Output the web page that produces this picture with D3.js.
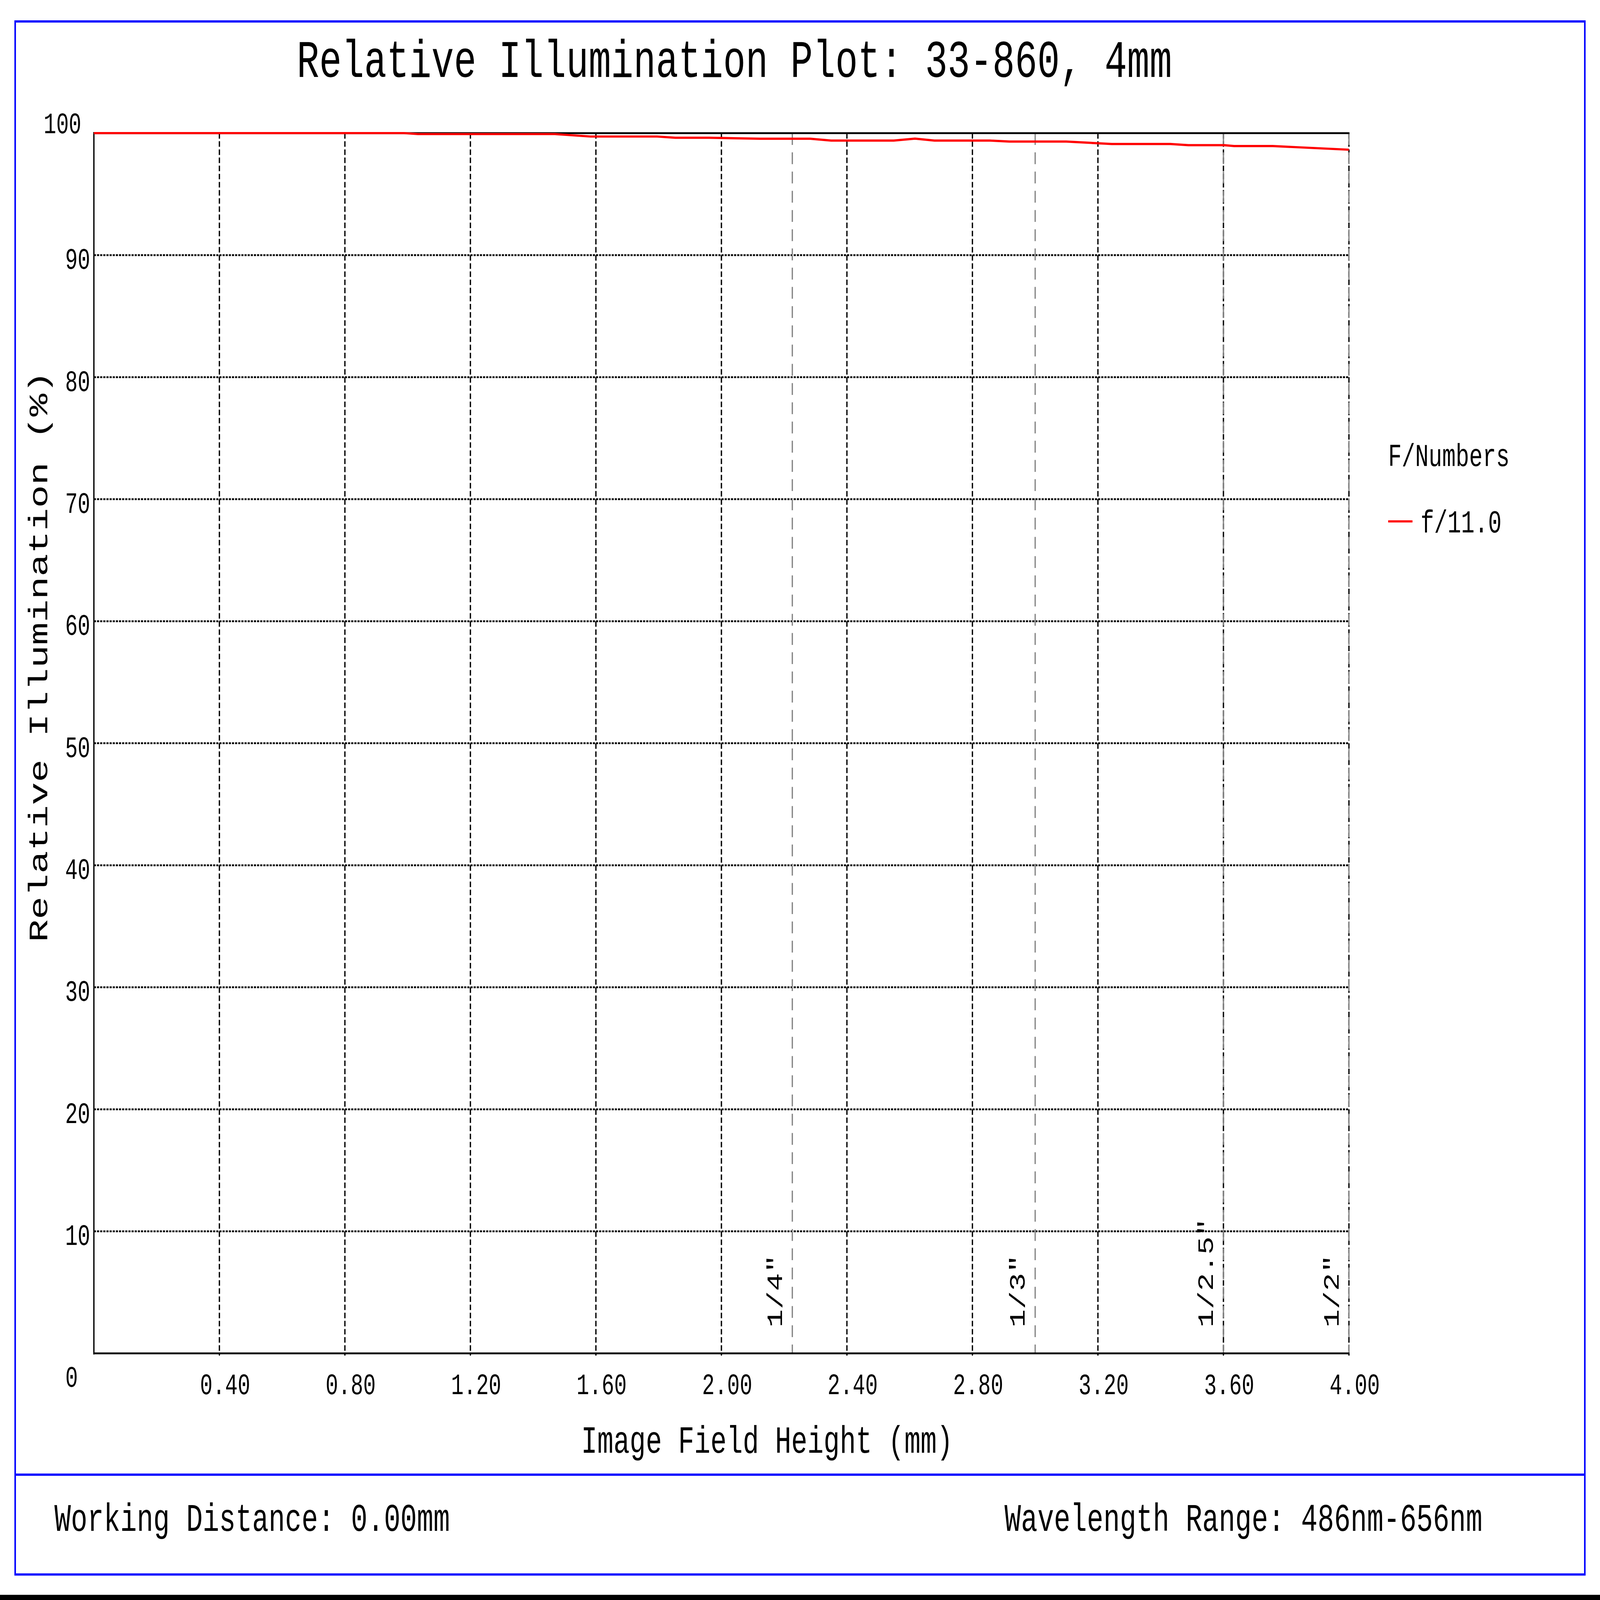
<!DOCTYPE html>
<html>
<head>
<meta charset="utf-8">
<script src="https://cdn.jsdelivr.net/npm/d3@7/dist/d3.min.js"></script>
<style>
html,body{margin:0;padding:0;background:#fff;width:100%;height:100%;overflow:hidden;}
svg{display:block;position:fixed;left:0;top:0;width:100vw;height:100vh;}
text{font-family:"Liberation Mono","DejaVu Sans Mono",monospace;fill:#000;}
</style>
</head>
<body>
<script>
// ---- data ----
const titleText = "Relative Illumination Plot: 33-860, 4mm";
const xTicks = [0.4, 0.8, 1.2, 1.6, 2.0, 2.4, 2.8, 3.2, 3.6, 4.0];
const xTickLabels = ["0.40","0.80","1.20","1.60","2.00","2.40","2.80","3.20","3.60","4.00"];
const yTicks = [0, 10, 20, 30, 40, 50, 60, 70, 80, 90, 100];
const yTickLabels = ["0","10","20","30","40","50","60","70","80","90","100"];
const fieldHeight = [0, 0.988, 1.033, 1.469, 1.583, 1.795, 1.853, 1.961, 2.039, 2.122, 2.283, 2.350, 2.549, 2.617, 2.679, 2.856, 2.918, 3.099, 3.244, 3.431, 3.488, 3.602, 3.634, 3.757, 4.0];
const relIllum    = [100, 100, 99.92, 99.92, 99.72, 99.72, 99.62, 99.62, 99.58, 99.54, 99.54, 99.39, 99.39, 99.55, 99.39, 99.39, 99.31, 99.31, 99.11, 99.11, 99.01, 99.01, 98.94, 98.94, 98.64];
const sensorPos = [2.226, 3.0, 3.6, 4.0];
const sensorLabels = ['1/4"', '1/3"', '1/2.5"', '1/2"'];
const seriesName = "f/11.0";
const legendTitle = "F/Numbers";
const xTitle = "Image Field Height (mm)";
const yTitle = "Relative Illumination (%)";
const footLeft = "Working Distance: 0.00mm";
const footRight = "Wavelength Range: 486nm-656nm";

// ---- drawing ----
const W = 6118, H = 4327;
const svg = d3.select("body").append("svg")
  .attr("viewBox", `0 0 ${W} ${H}`)
  .attr("preserveAspectRatio", "none");
svg.append("rect").attr("width", W).attr("height", H).attr("fill", "#fff");

const x = d3.scaleLinear().domain([0, 4]).range([359, 5158]);
const y = d3.scaleLinear().domain([0, 100]).range([3660, 360]);

// frame
svg.append("rect").attr("x", 58).attr("y", 58).attr("width", 6002).attr("height", 4200)
  .attr("fill", "none").attr("stroke", "#0000ff").attr("stroke-width", 6);
svg.append("line").attr("x1", 58).attr("x2", 6060).attr("y1", 3988).attr("y2", 3988)
  .attr("stroke", "#0000ff").attr("stroke-width", 6);
svg.append("rect").attr("x", 0).attr("y", 4313).attr("width", W).attr("height", 14).attr("fill", "#000");

// horizontal grid
svg.append("g").selectAll("line").data(yTicks.filter(v => v > 0 && v < 100)).join("line")
  .attr("x1", x(0)).attr("x2", x(4)).attr("y1", d => y(d)).attr("y2", d => y(d))
  .attr("stroke", "#000").attr("stroke-width", 5).attr("stroke-dasharray", "8,4");

// vertical grid
svg.append("g").selectAll("line").data(xTicks).join("line")
  .attr("x1", d => x(d)).attr("x2", d => x(d)).attr("y1", y(100)).attr("y2", y(0) + 6)
  .attr("stroke", "#000").attr("stroke-width", 5).attr("stroke-dasharray", "15,7");

// sensor lines
svg.append("g").selectAll("line").data(sensorPos).join("line")
  .attr("x1", d => x(d)).attr("x2", d => x(d)).attr("y1", y(100)).attr("y2", y(0))
  .attr("stroke", "#888").attr("stroke-width", 5).attr("stroke-dasharray", "32,20");
svg.append("g").selectAll("text").data(sensorPos).join("text")
  .attr("transform", d => `translate(${x(d) - 40},3590) rotate(-90)`)
  .attr("font-size", 82).text((d, i) => sensorLabels[i]);

// axes lines
svg.append("line").attr("x1", x(0)).attr("x2", x(0)).attr("y1", y(100) - 3).attr("y2", y(0) + 3)
  .attr("stroke", "#000").attr("stroke-width", 5);
svg.append("line").attr("x1", x(0) - 2).attr("x2", x(4) + 2).attr("y1", y(0)).attr("y2", y(0))
  .attr("stroke", "#000").attr("stroke-width", 5);
svg.append("line").attr("x1", x(0) - 2).attr("x2", x(4) + 2).attr("y1", y(100)).attr("y2", y(100))
  .attr("stroke", "#000").attr("stroke-width", 5);

// curve
const pts = fieldHeight.map((f, i) => [f, relIllum[i]]);
svg.append("path").datum(pts)
  .attr("d", d3.line().x(d => x(d[0])).y(d => y(d[1])))
  .attr("fill", "none").attr("stroke", "#ff0000").attr("stroke-width", 6).attr("stroke-linejoin", "round");

// x tick labels
svg.append("g").selectAll("text").data(xTicks).join("text")
  .attr("x", d => x(d) + 22).attr("y", 3770).attr("text-anchor", "middle")
  .attr("font-size", 80).text((d, i) => xTickLabels[i]);

// y tick labels
svg.append("g").selectAll("text").data(yTicks).join("text")
  .attr("x", d => d === 0 ? 250 : (d === 100 ? 311 : 345))
  .attr("y", d => d === 0 ? 3750 : (d === 100 ? y(100) : y(d) + 37))
  .attr("text-anchor", d => d === 0 ? "start" : "end")
  .attr("font-size", 80).text((d, i) => yTickLabels[i]);

// titles
svg.append("text").attr("x", 1135).attr("y", 208).attr("font-size", 143).text(titleText);
svg.append("text").attr("x", 2222).attr("y", 3929).attr("font-size", 103).text(xTitle);
svg.append("text").attr("transform", "translate(180,2548) rotate(-90)").attr("font-size", 103).text(yTitle);

// footer
svg.append("text").attr("x", 208).attr("y", 4140).attr("font-size", 105).text(footLeft);
svg.append("text").attr("x", 3841).attr("y", 4140).attr("font-size", 105).text(footRight);

// legend
svg.append("text").attr("x", 5308).attr("y", 1260).attr("font-size", 86).text(legendTitle);
svg.append("line").attr("x1", 5308).attr("x2", 5401).attr("y1", 1410).attr("y2", 1410)
  .attr("stroke", "#ff0000").attr("stroke-width", 6);
svg.append("text").attr("x", 5432).attr("y", 1440).attr("font-size", 86).text(seriesName);
</script>
</body>
</html>
